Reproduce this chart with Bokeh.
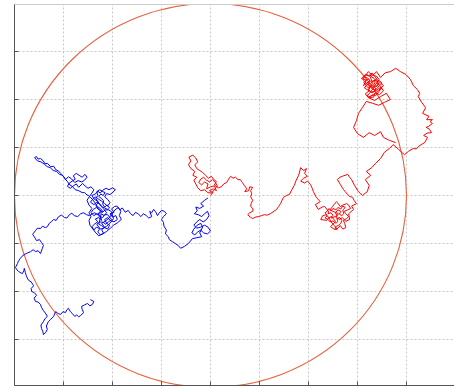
from bokeh.plotting import figure
from bokeh.models import Range1d, FixedTicker, LinearAxis
from bokeh.embed import file_html
from bokeh.resources import INLINE

# ---- data (grid units; axis has no tick labels) ----
x_ticks = [-4, -3, -2, -1, 0, 1, 2, 3, 4, 5]
y_ticks = [-4, -3, -2, -1, 0, 1, 2, 3, 4]

circle_x = [0.0]
circle_y = [0.0]
circle_radius = 4.0

# blue walk, read in pieces (x, y)
blue_origin = [(-0.05, -0.05), (-0.12, -0.10), (-0.20, -0.17), (-0.14, -0.22), (-0.22, -0.27), (-0.30, -0.24),
               (-0.27, -0.32), (-0.33, -0.38), (-0.25, -0.40), (-0.18, -0.44), (-0.12, -0.38), (-0.06, -0.33),
               (-0.03, -0.42), (-0.08, -0.50), (-0.15, -0.55), (-0.22, -0.50), (-0.28, -0.55), (-0.34, -0.62),
               (-0.28, -0.68), (-0.20, -0.66), (-0.12, -0.62), (-0.05, -0.66), (0.00, -0.74), (-0.06, -0.80),
               (-0.14, -0.78), (-0.20, -0.72), (-0.26, -0.76), (-0.32, -0.82), (-0.38, -0.78), (-0.34, -0.70),
               (-0.27, -0.62), (-0.20, -0.58), (-0.16, -0.66), (-0.22, -0.78), (-0.18, -0.86), (-0.28, -0.88),
               (-0.37, -0.90), (-0.45, -1.00), (-0.53, -1.06), (-0.61, -1.10), (-0.66, -1.04), (-0.72, -1.00),
               (-0.78, -0.96), (-0.84, -0.92), (-0.86, -0.86), (-0.92, -0.80), (-0.90, -0.72), (-0.95, -0.64),
               (-0.96, -0.56), (-1.00, -0.50), (-0.96, -0.44), (-0.90, -0.38), (-0.94, -0.33), (-1.00, -0.31),
               (-1.05, -0.37), (-1.08, -0.42), (-1.12, -0.34), (-1.16, -0.29), (-1.20, -0.36), (-1.24, -0.33),
               (-1.20, -0.44), (-1.26, -0.47), (-1.31, -0.42), (-1.37, -0.38), (-1.42, -0.44), (-1.47, -0.39),
               (-1.53, -0.35), (-1.58, -0.42), (-1.63, -0.38), (-1.68, -0.31), (-1.74, -0.35), (-1.80, -0.26),
               (-1.85, -0.30), (-1.91, -0.22), (-1.96, -0.23)]
blue_cluster_a = [(-2.02, -0.28), (-1.97, -0.35), (-2.05, -0.38), (-2.00, -0.45), (-1.93, -0.42), (-1.90, -0.50),
                  (-1.97, -0.55), (-2.05, -0.52), (-2.10, -0.46), (-2.16, -0.50), (-2.12, -0.58), (-2.06, -0.62),
                  (-2.10, -0.70), (-2.17, -0.66), (-2.22, -0.72), (-2.18, -0.79), (-2.25, -0.82), (-2.30, -0.76),
                  (-2.26, -0.69), (-2.33, -0.66), (-2.38, -0.72), (-2.42, -0.65), (-2.36, -0.59), (-2.30, -0.55),
                  (-2.35, -0.49), (-2.28, -0.46), (-2.22, -0.52), (-2.25, -0.42), (-2.32, -0.38), (-2.38, -0.42),
                  (-2.44, -0.36), (-2.39, -0.29), (-2.33, -0.25), (-2.27, -0.30), (-2.20, -0.35), (-2.15, -0.30)]
blue_cluster_b = [(-2.10, -0.30), (-2.06, -0.26), (-2.11, -0.20), (-2.16, -0.24), (-2.20, -0.18), (-2.18, -0.11),
                  (-2.23, -0.06), (-2.28, -0.02), (-2.24, 0.03), (-2.19, 0.00), (-2.15, 0.06), (-2.20, 0.08),
                  (-2.26, 0.12), (-2.32, 0.08), (-2.30, 0.00), (-2.34, -0.06), (-2.29, -0.15), (-2.34, -0.20),
                  (-2.30, -0.27), (-2.24, -0.32), (-2.29, -0.38), (-2.27, -0.44), (-2.20, -0.46), (-2.16, -0.40),
                  (-2.10, -0.40), (-2.06, -0.45), (-2.02, -0.50), (-2.08, -0.55), (-2.14, -0.60), (-2.19, -0.56),
                  (-2.26, -0.55), (-2.32, -0.60), (-2.28, -0.66), (-2.24, -0.70), (-2.18, -0.68), (-2.12, -0.64),
                  (-2.05, -0.58), (-1.98, -0.48), (-2.02, -0.34), (-2.08, -0.30)]
blue_cluster_c = [(-2.20, -0.24), (-2.26, -0.18), (-2.32, -0.14), (-2.38, -0.19), (-2.45, -0.14), (-2.40, -0.07),
                  (-2.34, -0.03), (-2.28, -0.08), (-2.22, -0.12), (-2.16, -0.17), (-2.10, -0.22), (-2.05, -0.15),
                  (-2.10, -0.08), (-2.16, -0.03), (-2.12, 0.04), (-2.05, 0.02), (-1.99, 0.07), (-1.94, 0.12),
                  (-2.00, 0.16), (-2.07, 0.12), (-2.13, 0.15), (-2.20, 0.11), (-2.25, 0.05), (-2.30, 0.09),
                  (-2.35, 0.03), (-2.42, 0.00), (-2.37, -0.08), (-2.30, -0.12), (-2.24, -0.22), (-2.18, -0.28),
                  (-2.12, -0.36), (-2.17, -0.42), (-2.23, -0.38), (-2.28, -0.60), (-2.22, -0.63), (-2.15, -0.68),
                  (-2.22, -0.58), (-2.14, -0.53), (-2.08, -0.48), (-2.02, -0.40), (-1.95, -0.30), (-1.88, -0.25),
                  (-1.83, -0.33), (-1.86, -0.42), (-1.82, -0.50), (-1.90, -0.57), (-1.98, -0.62), (-2.04, -0.68),
                  (-2.12, -0.75), (-2.20, -0.80), (-2.28, -0.84), (-2.34, -0.78), (-2.40, -0.70), (-2.46, -0.62),
                  (-2.48, -0.52), (-2.44, -0.44), (-2.48, -0.36), (-2.42, -0.27), (-2.48, -0.20), (-2.52, -0.10),
                  (-2.47, -0.02), (-2.42, 0.05), (-2.38, 0.12), (-2.44, 0.18), (-2.50, 0.15), (-2.56, 0.20),
                  (-2.61, 0.25)]
blue_upper = [(-2.69, 0.17), (-2.74, 0.24), (-2.80, 0.20), (-2.86, 0.15), (-2.92, 0.19), (-2.88, 0.26),
              (-2.82, 0.30), (-2.76, 0.34), (-2.80, 0.41), (-2.74, 0.46), (-2.68, 0.42), (-2.62, 0.38),
              (-2.56, 0.44), (-2.52, 0.38), (-2.57, 0.32), (-2.63, 0.28), (-2.70, 0.31), (-2.77, 0.27),
              (-2.84, 0.35), (-2.90, 0.39), (-2.96, 0.33), (-3.00, 0.40), (-3.06, 0.46), (-3.10, 0.51),
              (-3.16, 0.54), (-3.20, 0.61), (-3.26, 0.60), (-3.33, 0.67), (-3.38, 0.66), (-3.41, 0.72),
              (-3.47, 0.77), (-3.52, 0.76), (-3.55, 0.81), (-3.59, 0.79), (-3.53, 0.72), (-3.46, 0.70),
              (-3.39, 0.65), (-3.33, 0.60), (-3.27, 0.58), (-3.21, 0.52), (-3.14, 0.50), (-3.08, 0.44),
              (-3.02, 0.42), (-2.97, 0.35), (-2.92, 0.29), (-2.87, 0.22), (-2.82, 0.19), (-2.76, 0.12),
              (-2.69, 0.10), (-2.62, 0.06), (-2.57, 0.06), (-2.52, 0.01), (-2.49, 0.00), (-2.44, -0.05),
              (-2.41, -0.08), (-2.36, -0.15), (-2.31, -0.23), (-2.25, -0.27), (-2.20, -0.33)]
blue_tail = [(-2.26, -0.37), (-2.31, -0.40), (-2.36, -0.36), (-2.41, -0.38), (-2.47, -0.42), (-2.53, -0.40),
             (-2.59, -0.36), (-2.65, -0.38), (-2.71, -0.44), (-2.78, -0.42), (-2.83, -0.37), (-2.88, -0.40),
             (-2.93, -0.47), (-2.98, -0.46), (-3.04, -0.41), (-3.10, -0.44), (-3.15, -0.52), (-3.20, -0.50),
             (-3.25, -0.55), (-3.29, -0.58), (-3.33, -0.65), (-3.37, -0.67), (-3.43, -0.64), (-3.47, -0.69),
             (-3.53, -0.68), (-3.57, -0.73), (-3.63, -0.81), (-3.59, -0.87), (-3.55, -0.94), (-3.49, -0.92),
             (-3.45, -0.98), (-3.41, -1.04), (-3.43, -1.10), (-3.47, -1.21), (-3.52, -1.15), (-3.57, -1.17),
             (-3.62, -1.13), (-3.67, -1.17), (-3.74, -1.20), (-3.80, -1.23), (-3.85, -1.27), (-3.88, -1.31),
             (-3.92, -1.37), (-3.94, -1.42), (-3.98, -1.50), (-3.95, -1.55), (-3.92, -1.58), (-3.86, -1.62),
             (-3.84, -1.63), (-3.81, -1.57), (-3.80, -1.52), (-3.78, -1.60), (-3.76, -1.67), (-3.74, -1.72),
             (-3.71, -1.77), (-3.66, -1.80), (-3.61, -1.88), (-3.66, -1.94), (-3.65, -2.00), (-3.59, -2.03),
             (-3.55, -2.08), (-3.60, -2.14), (-3.57, -2.21), (-3.52, -2.22), (-3.47, -2.27), (-3.45, -2.33),
             (-3.41, -2.40), (-3.37, -2.45), (-3.33, -2.52), (-3.38, -2.57), (-3.41, -2.63), (-3.46, -2.70),
             (-3.45, -2.77), (-3.42, -2.84), (-3.41, -2.90), (-3.36, -2.85), (-3.33, -2.79), (-3.35, -2.72),
             (-3.31, -2.63), (-3.26, -2.58), (-3.20, -2.52), (-3.18, -2.46), (-3.16, -2.42), (-3.11, -2.46),
             (-3.06, -2.48), (-3.01, -2.42), (-2.96, -2.44), (-2.93, -2.38), (-2.90, -2.35), (-2.86, -2.42),
             (-2.82, -2.46), (-2.77, -2.52), (-2.73, -2.49), (-2.69, -2.53), (-2.65, -2.50), (-2.59, -2.44),
             (-2.62, -2.37), (-2.63, -2.31), (-2.57, -2.28), (-2.51, -2.25), (-2.46, -2.30), (-2.41, -2.27),
             (-2.38, -2.21), (-2.45, -2.17)]

# red walk, read in pieces (x, y)
red_origin = [(0.00, 0.00), (0.05, 0.06), (-0.02, 0.10), (0.06, 0.14), (0.12, 0.10), (0.08, 0.20), (0.00, 0.18),
              (-0.08, 0.14), (-0.05, 0.24), (-0.12, 0.28), (-0.18, 0.22), (-0.24, 0.27), (-0.20, 0.34),
              (-0.14, 0.38), (-0.08, 0.32), (-0.02, 0.28), (0.04, 0.33), (0.10, 0.27), (0.14, 0.20),
              (0.08, 0.12), (0.02, 0.05), (-0.06, 0.06), (-0.12, 0.12), (-0.20, 0.10), (-0.26, 0.16),
              (-0.30, 0.24), (-0.34, 0.32), (-0.28, 0.38), (-0.36, 0.42), (-0.32, 0.50), (-0.40, 0.56),
              (-0.45, 0.64), (-0.40, 0.72), (-0.44, 0.80), (-0.36, 0.84), (-0.30, 0.78), (-0.26, 0.70),
              (-0.32, 0.64), (-0.28, 0.56), (-0.22, 0.52), (-0.16, 0.48), (-0.10, 0.42), (-0.04, 0.36),
              (0.02, 0.40), (0.06, 0.34), (0.12, 0.29), (0.08, 0.22), (0.16, 0.16), (0.22, 0.18)]
red_middle = [(0.27, 0.24), (0.33, 0.27), (0.37, 0.34), (0.41, 0.40), (0.46, 0.36), (0.51, 0.38), (0.56, 0.33),
              (0.61, 0.33), (0.65, 0.27), (0.69, 0.21), (0.74, 0.14), (0.70, 0.08), (0.78, 0.10), (0.80, 0.18),
              (0.86, 0.17), (0.82, 0.10), (0.84, 0.04), (0.82, -0.03), (0.86, -0.10), (0.83, -0.17),
              (0.82, -0.23), (0.87, -0.28), (0.86, -0.33), (0.80, -0.36), (0.76, -0.40), (0.81, -0.45),
              (0.86, -0.48), (0.92, -0.45), (0.98, -0.44), (1.04, -0.42), (1.10, -0.40), (1.16, -0.41),
              (1.22, -0.38), (1.28, -0.34), (1.35, -0.29), (1.39, -0.23), (1.43, -0.17), (1.46, -0.10),
              (1.49, -0.04), (1.55, 0.00), (1.61, 0.02), (1.66, 0.12), (1.71, 0.21), (1.75, 0.32),
              (1.80, 0.42), (1.84, 0.58), (1.90, 0.52), (1.96, 0.56), (1.92, 0.46), (1.98, 0.40),
              (1.90, 0.36), (1.84, 0.30), (1.92, 0.26), (1.98, 0.30), (2.04, 0.23), (2.08, 0.14), (2.10, 0.08)]
red_cluster_a = [(2.16, -0.04), (2.24, -0.13), (2.14, -0.19), (2.20, -0.29), (2.28, -0.24), (2.33, -0.23),
                 (2.41, -0.33)]
red_cluster_b = [(2.40, -0.38), (2.46, -0.36), (2.50, -0.41), (2.46, -0.47), (2.52, -0.45), (2.58, -0.42),
                 (2.55, -0.36), (2.60, -0.30), (2.66, -0.33), (2.63, -0.39), (2.68, -0.42), (2.72, -0.38),
                 (2.70, -0.30), (2.75, -0.25), (2.70, -0.22), (2.66, -0.28), (2.60, -0.25), (2.56, -0.30),
                 (2.50, -0.27), (2.46, -0.32), (2.42, -0.27), (2.38, -0.33), (2.34, -0.36), (2.38, -0.42),
                 (2.34, -0.47), (2.40, -0.50), (2.44, -0.55), (2.50, -0.53), (2.56, -0.58), (2.60, -0.54),
                 (2.58, -0.48), (2.64, -0.46), (2.68, -0.52), (2.66, -0.58), (2.62, -0.62), (2.57, -0.64),
                 (2.54, -0.68), (2.59, -0.70), (2.52, -0.62), (2.46, -0.55), (2.42, -0.47), (2.38, -0.42)]
red_cluster_c = [(2.36, -0.40), (2.29, -0.42), (2.25, -0.50), (2.37, -0.52), (2.42, -0.46),
                 (2.47, -0.44), (2.52, -0.50), (2.55, -0.54), (2.50, -0.60), (2.45, -0.65), (2.52, -0.70),
                 (2.57, -0.71), (2.62, -0.66), (2.65, -0.63), (2.70, -0.70), (2.76, -0.67), (2.74, -0.58),
                 (2.71, -0.52), (2.78, -0.48), (2.82, -0.44), (2.76, -0.38), (2.73, -0.33), (2.80, -0.30),
                 (2.86, -0.27), (2.82, -0.20), (2.78, -0.17), (2.70, -0.20), (2.65, -0.23), (2.60, -0.16),
                 (2.57, -0.13), (2.52, -0.19), (2.49, -0.23), (2.44, -0.30), (2.52, -0.34), (2.61, -0.38),
                 (2.56, -0.46), (2.64, -0.50), (2.69, -0.46), (2.76, -0.54), (2.84, -0.50), (2.82, -0.38),
                 (2.92, -0.29), (2.88, -0.22), (2.98, -0.17), (2.93, -0.10), (2.90, -0.04), (2.84, -0.02),
                 (2.80, 0.02), (2.75, 0.08), (2.71, 0.13), (2.65, 0.23), (2.59, 0.33), (2.64, 0.38),
                 (2.69, 0.40), (2.80, 0.44), (2.84, 0.38), (2.88, 0.33), (2.94, 0.21), (3.02, 0.08),
                 (3.10, 0.00), (3.20, 0.08), (3.24, 0.21), (3.16, 0.33), (3.27, 0.42), (3.18, 0.50),
                 (3.29, 0.58), (3.37, 0.67), (3.47, 0.77), (3.55, 0.90), (3.65, 0.98), (3.73, 1.06)]
red_loop = [(3.84, 0.96), (3.90, 0.90), (3.96, 0.85), (4.04, 0.92), (4.14, 0.98), (4.20, 0.97), (4.24, 1.02),
            (4.30, 1.06), (4.37, 1.10), (4.43, 1.21), (4.35, 1.25), (4.42, 1.30), (4.51, 1.31), (4.47, 1.38),
            (4.40, 1.42), (4.45, 1.44), (4.53, 1.50), (4.48, 1.54), (4.53, 1.58), (4.41, 1.58), (4.46, 1.65),
            (4.33, 1.71), (4.39, 1.83), (4.31, 1.94), (4.24, 2.06), (4.27, 2.13), (4.22, 2.21), (4.14, 2.29),
            (4.08, 2.42), (3.99, 2.52), (3.88, 2.58), (3.78, 2.65), (3.67, 2.58), (3.57, 2.56)]
red_upper_a = [(3.47, 2.46), (3.39, 2.58), (3.31, 2.50), (3.22, 2.58), (3.14, 2.46)]
red_upper_b = [(3.20, 2.45), (3.25, 2.40), (3.21, 2.35), (3.27, 2.33), (3.32, 2.40), (3.36, 2.36), (3.33, 2.30),
               (3.39, 2.27), (3.42, 2.33), (3.38, 2.38), (3.34, 2.44), (3.29, 2.47), (3.25, 2.52), (3.30, 2.55),
               (3.35, 2.50), (3.40, 2.47), (3.44, 2.42), (3.40, 2.36), (3.45, 2.30), (3.41, 2.24), (3.36, 2.20),
               (3.30, 2.22), (3.26, 2.27), (3.21, 2.25), (3.17, 2.30), (3.13, 2.35), (3.17, 2.40), (3.22, 2.43),
               (3.27, 2.38), (3.31, 2.33), (3.27, 2.28), (3.23, 2.20), (3.27, 2.15), (3.33, 2.17), (3.38, 2.22),
               (3.34, 2.26), (3.29, 2.19), (3.24, 2.12), (3.19, 2.08), (3.25, 2.06), (3.31, 2.10), (3.37, 2.08),
               (3.42, 2.14), (3.46, 2.20), (3.50, 2.24), (3.46, 2.29), (3.50, 2.34), (3.46, 2.38), (3.40, 2.41),
               (3.36, 2.48), (3.30, 2.52), (3.24, 2.49), (3.19, 2.52), (3.14, 2.48), (3.11, 2.42), (3.15, 2.37),
               (3.19, 2.33), (3.23, 2.30)]
red_upper_c = [(3.24, 2.38), (3.12, 2.29), (3.18, 2.40), (3.08, 2.44), (3.16, 2.52), (3.26, 2.48), (3.30, 2.36),
               (3.38, 2.42), (3.44, 2.32), (3.36, 2.26), (3.28, 2.30), (3.22, 2.21), (3.30, 2.14), (3.40, 2.20),
               (3.48, 2.26), (3.53, 2.18), (3.45, 2.10), (3.36, 2.14), (3.33, 2.05), (3.22, 2.04), (3.16, 2.12),
               (3.24, 2.18), (3.14, 2.24), (3.20, 2.32), (3.30, 2.25), (3.35, 2.29), (3.43, 2.38), (3.53, 2.29),
               (3.43, 2.19), (3.33, 2.10), (3.22, 2.04), (3.35, 1.98), (3.47, 2.06), (3.59, 2.13), (3.67, 2.00),
               (3.55, 1.94), (3.43, 1.88), (3.31, 1.92), (3.18, 1.96), (3.10, 1.83), (3.02, 1.71), (2.98, 1.56),
               (2.92, 1.42), (3.00, 1.29), (3.12, 1.21), (3.24, 1.31), (3.35, 1.25), (3.47, 1.33), (3.53, 1.21),
               (3.65, 1.15), (3.78, 1.10)]

blue_pts = blue_origin + blue_cluster_a + blue_cluster_b + blue_cluster_c + blue_upper + blue_tail
red_pts = (red_origin + red_middle + red_cluster_a + red_cluster_b + red_cluster_c + red_loop
           + red_upper_a + red_upper_b + red_upper_c)
blue_x = [pt[0] for pt in blue_pts]
blue_y = [pt[1] for pt in blue_pts]
red_x = [pt[0] for pt in red_pts]
red_y = [pt[1] for pt in red_pts]

# ---- figure ----
p = figure(width=454, height=387, output_backend="svg", toolbar_location=None,
           x_range=Range1d(-4.0, 4.98), y_range=Range1d(-3.96, 3.98),
           min_border_left=14, min_border_right=0, min_border_top=4, min_border_bottom=2,
           background_fill_color="white", border_fill_color="white")
p.outline_line_color = None

# ticks drawn inside, no tick labels (as in the reference)
for ax, ticks in ((p.xaxis[0], x_ticks), (p.yaxis[0], y_ticks)):
    ax.ticker = FixedTicker(ticks=[], minor_ticks=ticks)
    ax.major_tick_in = 0
    ax.major_tick_out = 0
    ax.minor_tick_in = 4
    ax.minor_tick_out = 0
    ax.axis_line_color = "#555555"
    ax.minor_tick_line_color = "#555555"

top = LinearAxis(ticker=FixedTicker(ticks=[]), major_tick_in=0, major_tick_out=0,
                 minor_tick_in=0, minor_tick_out=0, axis_line_color="#cccccc")
p.add_layout(top, "above")

p.xgrid.ticker = FixedTicker(ticks=x_ticks)
p.ygrid.ticker = FixedTicker(ticks=y_ticks)
for g in (p.xgrid[0], p.ygrid[0]):
    g.grid_line_color = "#c8c8c8"
    g.grid_line_dash = "2 2"
    g.grid_line_width = 1

p.ellipse(x=circle_x, y=circle_y, width=2 * circle_radius, height=2 * circle_radius,
          fill_color=None, line_color="#e8603c", line_width=1.1)
p.line(blue_x, blue_y, line_color="#0000ff", line_width=1)
p.line(red_x, red_y, line_color="#ff0000", line_width=1)

open("out.html", "w").write(file_html(p, INLINE))
